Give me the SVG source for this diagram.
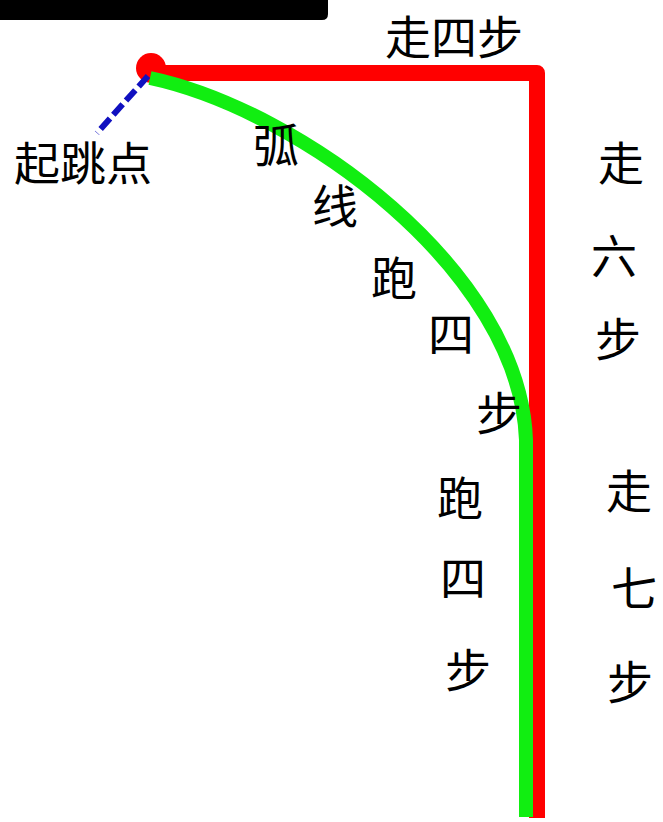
<svg xmlns="http://www.w3.org/2000/svg" width="663" height="822" viewBox="0 0 663 822">
<style>
.t{font-family:"Noto Sans CJK SC","Noto Sans CJK JP",sans-serif;font-size:46px;fill:#000;text-anchor:middle;dominant-baseline:central}
</style>
<rect width="663" height="822" fill="#fff"/>
<g id="top-bar"><path d="M0,0 H328 V14 Q328,20 322,20 H0 Z" fill="#000"/></g>
<g id="connectors">
<path id="red-walk" d="M150,73 H537 V818" fill="none" stroke="#f00" stroke-width="16" stroke-linejoin="round"/>
<circle cx="151" cy="68" r="15" fill="#f00"/>
<path id="green-run" d="M150,78 C300,110 520,270 526,440 V817" fill="none" stroke="#11ee11" stroke-width="14"/>
<path id="blue-jump" d="M148,76 L97,133" fill="none" stroke="#1010c0" stroke-width="6" stroke-dasharray="14 5"/>
</g>
<g id="labels">
<text class="t" x="454" y="34">走四步</text>
<text class="t" x="83" y="160">起跳点</text>
<text class="t" x="276" y="142">弧</text>
<text class="t" x="335" y="203">线</text>
<text class="t" x="394" y="275">跑</text>
<text class="t" x="451" y="331">四</text>
<text class="t" x="499" y="410">步</text>
<text class="t" x="621" y="160">走</text>
<text class="t" x="614" y="253">六</text>
<text class="t" x="618" y="336">步</text>
<text class="t" x="460" y="495">跑</text>
<text class="t" x="463" y="575">四</text>
<text class="t" x="468" y="667">步</text>
<text class="t" x="629" y="488">走</text>
<text class="t" x="634" y="585">七</text>
<text class="t" x="630" y="679">步</text>
</g>
</svg>
